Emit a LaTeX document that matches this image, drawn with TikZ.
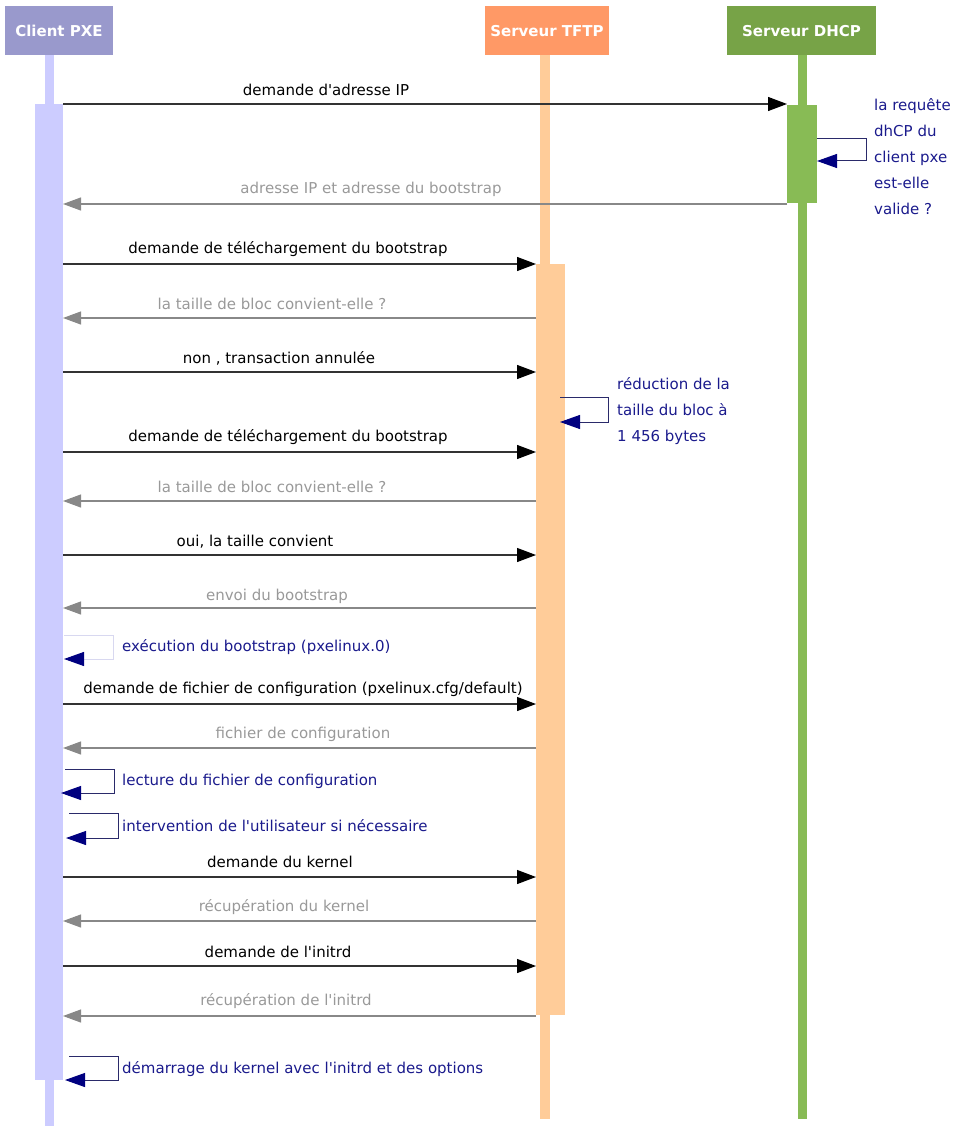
\documentclass[tikz,border=0pt]{standalone}
\usepackage{fontspec}
\setmainfont{DejaVu Sans}
\usetikzlibrary{arrows.meta}
\definecolor{cliHead}{HTML}{9999CC}
\definecolor{cliLine}{HTML}{CCCCFF}
\definecolor{tftpHead}{HTML}{FF9966}
\definecolor{tftpLine}{HTML}{FFCC99}
\definecolor{dhcpHead}{HTML}{77A347}
\definecolor{dhcpLine}{HTML}{88BB55}
\definecolor{msgBlack}{HTML}{333333}
\definecolor{msgGray}{HTML}{888888}
\definecolor{txtGray}{HTML}{999999}
\definecolor{noteBlue}{HTML}{1A1A8C}
\definecolor{tipBlue}{HTML}{000080}
\definecolor{loopLine}{HTML}{2A2A6A}
\definecolor{paleLoop}{HTML}{D8D8F0}
\newcommand{\ap}{\textquotesingle}
\tikzset{
  head/.style={inner sep=0pt, text=white, font=\fontsize{15}{18}\selectfont\bfseries, minimum height=49pt},
  lbl/.style={inner sep=0pt, font=\fontsize{15}{18}\selectfont},
  lblreq/.style={lbl, text=black},
  lblrep/.style={lbl, text=txtGray},
  lblnote/.style={lbl, text=noteBlue, anchor=west},
  req/.style={draw=msgBlack, line width=1.2pt, -{Triangle[length=19pt,width=14pt,color=black]}},
  rep/.style={draw=msgGray, line width=1.1pt, -{Triangle[length=18pt,width=13pt,color=msgGray]}},
  self/.style={draw=loopLine, line width=1pt, -{Triangle[length=20pt,width=14pt,color=tipBlue]}},
}
\begin{document}
\begin{tikzpicture}[x=1pt,y=-1pt]
\useasboundingbox (0,0) rectangle (964,1126);
% lifelines
\fill[cliLine] (45,55) rectangle (54,1126);
\fill[tftpLine] (540,55) rectangle (550,1119);
\fill[dhcpLine] (798,55) rectangle (807,1119);
% activation bars
\fill[cliLine] (35,104) rectangle (63,1080);
\fill[tftpLine] (536,264) rectangle (565,1015);
\fill[dhcpLine] (787,105) rectangle (817,203);
% headers
\node[head, fill=cliHead, minimum width=108pt] (hc) at (59,31) {Client PXE};
\node[head, fill=tftpHead, minimum width=124pt] (ht) at (547,31) {Serveur TFTP};
\node[head, fill=dhcpHead, minimum width=149pt] (hd) at (801.5,31) {Serveur DHCP};

% message endpoints
\coordinate (c1) at (63,104);  \coordinate (d1) at (787,104);
\coordinate (c2) at (63,204);  \coordinate (d2) at (787,204);
\coordinate (c3) at (63,264);  \coordinate (t3) at (536,264);
\coordinate (c4) at (63,318);  \coordinate (t4) at (536,318);
\coordinate (c5) at (63,372);  \coordinate (t5) at (536,372);
\coordinate (c6) at (63,452);  \coordinate (t6) at (536,452);
\coordinate (c7) at (63,501);  \coordinate (t7) at (536,501);
\coordinate (c8) at (63,555);  \coordinate (t8) at (536,555);
\coordinate (c9) at (63,608);  \coordinate (t9) at (536,608);
\coordinate (c10) at (63,704); \coordinate (t10) at (536,704);
\coordinate (c11) at (63,748); \coordinate (t11) at (536,748);
\coordinate (c12) at (63,877); \coordinate (t12) at (536,877);
\coordinate (c13) at (63,921); \coordinate (t13) at (536,921);
\coordinate (c14) at (63,966); \coordinate (t14) at (536,966);
\coordinate (c15) at (63,1016); \coordinate (t15) at (536,1016);

\draw[req] (c1) -- (d1);
\draw[rep] (d2) -- (c2);
\draw[req] (c3) -- (t3);
\draw[rep] (t4) -- (c4);
\draw[req] (c5) -- (t5);
\draw[req] (c6) -- (t6);
\draw[rep] (t7) -- (c7);
\draw[req] (c8) -- (t8);
\draw[rep] (t9) -- (c9);
\draw[req] (c10) -- (t10);
\draw[rep] (t11) -- (c11);
\draw[req] (c12) -- (t12);
\draw[rep] (t13) -- (c13);
\draw[req] (c14) -- (t14);
\draw[rep] (t15) -- (c15);

\node[lblreq] (l1) at (326,90) {demande d\ap adresse IP};
\node[lblrep] (l2) at (371,189) {adresse IP et adresse du bootstrap};
\node[lblreq] (l3) at (288,249) {demande de téléchargement du bootstrap};
\node[lblrep] (l4) at (272,304) {la taille de bloc convient-elle ?};
\node[lblreq] (l5) at (279,358) {non , transaction annulée};
\node[lblreq] (l6) at (288,437) {demande de téléchargement du bootstrap};
\node[lblrep] (l7) at (272,487) {la taille de bloc convient-elle ?};
\node[lblreq] (l8) at (255,542) {oui, la taille convient};
\node[lblrep] (l9) at (277,596) {envoi du bootstrap};
\node[lblreq] (l10) at (303,689) {demande de fichier de configuration (pxelinux.cfg/default)};
\node[lblrep] (l11) at (303,734) {fichier de configuration};
\node[lblreq] (l12) at (280,862) {demande du kernel};
\node[lblrep] (l13) at (284,907) {récupération du kernel};
\node[lblreq] (l14) at (278,952) {demande de l\ap initrd};
\node[lblrep] (l15) at (286,1001) {récupération de l\ap initrd};

% self messages
\coordinate (sd1) at (817,139); \coordinate (sd2) at (817,161);
\draw[self] (sd1) -- ++(49,0) |- (sd2);
\coordinate (st1) at (560,397); \coordinate (st2) at (560,422);
\draw[self] (st1) -- ++(48,0) |- (st2);
\coordinate (sa1) at (64,635); \coordinate (sa2) at (64,659);
\draw[self, draw=paleLoop] (sa1) -- ++(49,0) |- (sa2);
\coordinate (sb1) at (65,769); \coordinate (sb2) at (61,793);
\draw[self] (sb1) -- (114,769) |- (sb2);
\coordinate (sc1) at (69,813); \coordinate (sc2) at (66,838);
\draw[self] (sc1) -- (118,813) |- (sc2);
\coordinate (se1) at (69,1056); \coordinate (se2) at (65,1080);
\draw[self] (se1) -- (118,1056) |- (se2);

% notes
\node[lblnote, align=left, font=\fontsize{15}{26}\selectfont] (nd) at (874,157) {la requête\\dhCP du\\client pxe\\est-elle\\valide ?};
\node[lblnote, align=left, font=\fontsize{15}{26}\selectfont] (nt) at (617,411) {réduction de la\\taille du bloc à\\1 456 bytes};
\node[lblnote] (na) at (122,647) {exécution du bootstrap (pxelinux.0)};
\node[lblnote] (nb) at (122,781) {lecture du fichier de configuration};
\node[lblnote] (nc) at (122,826) {intervention de l\ap utilisateur si nécessaire};
\node[lblnote] (ne) at (122,1069) {démarrage du kernel avec l\ap initrd et des options};
\end{tikzpicture}
\end{document}
